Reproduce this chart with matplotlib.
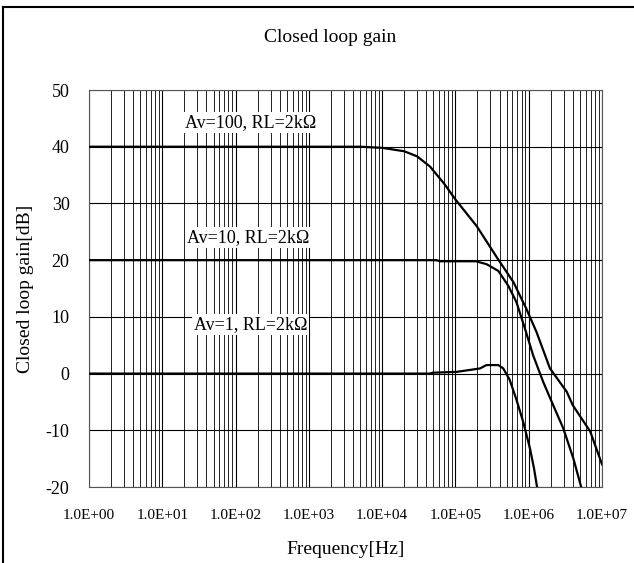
import matplotlib.pyplot as plt
from matplotlib.ticker import FixedLocator, FuncFormatter, NullFormatter
from matplotlib.lines import Line2D

plt.rcParams['font.family'] = ['Liberation Serif', 'DejaVu Serif']
plt.rcParams['axes.unicode_minus'] = False

# Closed loop gain curves (frequency in Hz, gain in dB)
av100_freq = [1, 1e3, 5e3, 1e4, 2e4, 3e4, 4.5e4, 7e4, 1.0e5, 1.95e5, 3.8e5,
              6.2e5, 9.3e5, 1.28e6, 1.95e6, 3.3e6, 4.0e6, 6.9e6, 1e7]
av100_gain = [40, 40, 40, 39.8, 39.2, 38.3, 36.5, 33.5, 30.7, 26.0, 20.2,
              16.1, 11.4, 7.3, 0.9, -3.2, -5.6, -10.2, -16.0]

av10_freq = [1, 1e4, 5.5e4, 6.2e4, 1.9e5, 2.65e5, 3.85e5, 5.25e5, 6.8e5,
             8.9e5, 1.15e6, 1.58e6, 2.16e6, 2.95e6, 4.05e6, 5.2e6]
av10_gain = [20, 20, 20, 19.8, 19.8, 19.3, 18.1, 15.5, 12.6, 7.9, 3.2,
             -1.5, -5.6, -9.6, -14.9, -20]

av1_freq = [1, 4.5e4, 4.9e4, 1.04e5, 2.16e5, 2.65e5, 3.85e5, 4.5e5, 5.5e5,
            6.8e5, 8.4e5, 1.04e6, 1.18e6, 1.3e6]
av1_gain = [0, 0, 0.15, 0.3, 0.9, 1.5, 1.5, 0.9, -1.1, -4.6, -8.5, -13.2,
            -16.7, -20]

labels = ['Av=100, RL=2k\u03a9', 'Av=10, RL=2k\u03a9', 'Av=1, RL=2k\u03a9']
label_pos = [(160, 44.3), (150, 24.0), (160, 8.7)]

x_ticks = [1e0, 1e1, 1e2, 1e3, 1e4, 1e5, 1e6, 1e7]
y_ticks = [-20, -10, 0, 10, 20, 30, 40, 50]

fig = plt.figure(figsize=(6.34, 5.63), dpi=100)
ax = fig.add_axes([89 / 634, 1 - 487 / 563, 513 / 634, 397 / 563])

for f, g in [(av100_freq, av100_gain), (av10_freq, av10_gain), (av1_freq, av1_gain)]:
    ax.plot(f, g, color='black', lw=1.6, zorder=3)

for txt, (x, y) in zip(labels, label_pos):
    ax.text(x, y, txt, ha='center', va='center', fontsize=13, zorder=4,
            bbox=dict(facecolor='white', edgecolor='none', pad=1.5))

ax.set_xscale('log')
ax.set_xlim(1, 1e7)
ax.set_ylim(-20, 50)
ax.xaxis.set_major_locator(FixedLocator(x_ticks))
ax.xaxis.set_minor_locator(FixedLocator(
    [m * 10 ** d for d in range(7) for m in range(2, 10)]))
ax.xaxis.set_major_formatter(FuncFormatter(lambda v, p: '%.1E' % v))
ax.xaxis.set_minor_formatter(NullFormatter())
ax.set_yticks(y_ticks)

ax.grid(True, which='major', axis='both', color='black', lw=0.8)
ax.grid(True, which='minor', axis='x', color='#222222', lw=0.7)
ax.tick_params(axis='both', which='both', length=0)
ax.tick_params(axis='x', labelsize=11, pad=16)
ax.tick_params(axis='y', labelsize=13, pad=14)
for s in ax.spines.values():
    s.set_linewidth(0.8)
    s.set_color('#555555')

ax.set_xlabel('Frequency[Hz]', fontsize=14)
ax.xaxis.set_label_coords(0.5, -0.135)
ax.set_ylabel('Closed loop gain[dB]', fontsize=14)
ax.yaxis.set_label_coords(-0.107, 0.5)

fig.text(330 / 634, 1 - 37 / 563, 'Closed loop gain', ha='center', va='center', fontsize=14)

# frame around the chart (only left and top edges visible in reference)
fig.add_artist(Line2D([3 / 634, 3 / 634], [0, 1 - 7 / 563], color='black', lw=1.5))
fig.add_artist(Line2D([3 / 634, 1], [1 - 7 / 563, 1 - 7 / 563], color='black', lw=1.5))

fig.savefig('out.png', dpi=100)
